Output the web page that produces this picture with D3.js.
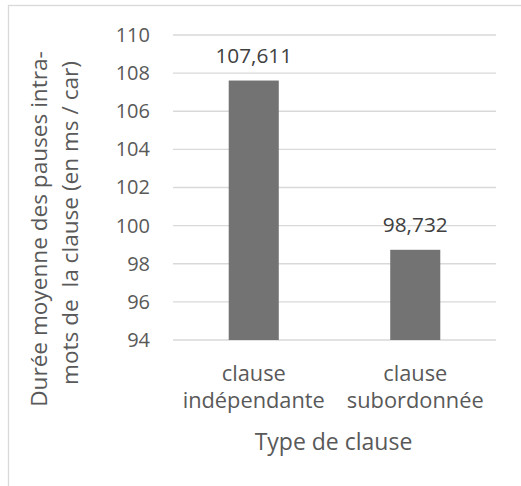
<!DOCTYPE html>
<html>
<head>
<meta charset="utf-8">
<script src="https://cdn.jsdelivr.net/npm/d3@7"></script>
<style>
  html, body { margin: 0; padding: 0; background: #fff; }
  svg { display: block; font-family: "Open Sans", "Segoe UI", sans-serif; }
</style>
</head>
<body>
<svg id="chart" width="521" height="486"></svg>
<script>
// Mean intra-word pause duration by clause type
const categories = [["clause", "indépendante"], ["clause", "subordonnée"]];
const values = [107.611, 98.732];
const valueLabels = ["107,611", "98,732"];
const yTicks = [94, 96, 98, 100, 102, 104, 106, 108, 110];
const yTitle = ["Durée moyenne des pauses intra-", "mots de  la clause (en ms / car)"];
const xTitle = "Type de clause";

const svg = d3.select("#chart");
const margin = { left: 173, right: 25, top: 35, bottom: 146 };
const W = 521, H = 486;
const textColor = "#595959";
const gridColor = "#d9d9d9";

// chart frame (runs past the right and bottom edges)
svg.append("rect")
  .attr("x", 8.5).attr("y", 5.5)
  .attr("width", 560).attr("height", 520)
  .attr("fill", "#fff").attr("stroke", gridColor).attr("stroke-width", 1.3);

const x = d3.scaleBand()
  .domain(d3.range(categories.length))
  .range([margin.left, W - margin.right])
  .paddingInner(0.69).paddingOuter(0.345);

const y = d3.scaleLinear()
  .domain([94, 110])
  .range([H - margin.bottom, margin.top]);

// horizontal gridlines
svg.append("g").selectAll("line").data(yTicks).join("line")
  .attr("x1", margin.left).attr("x2", W - margin.right)
  .attr("y1", d => y(d)).attr("y2", d => y(d))
  .attr("stroke", gridColor).attr("stroke-width", 1.3);

// y axis labels
const yAxis = d3.axisLeft(y).tickValues(yTicks).tickSize(0).tickPadding(23);
const gy = svg.append("g").attr("transform", `translate(${margin.left},0)`).call(yAxis);
gy.select(".domain").remove();
gy.selectAll("text")
  .attr("fill", textColor)
  .style("font-size", "20px")
  .style("font-family", "'Open Sans', sans-serif");

// bars
svg.append("g").selectAll("rect").data(values).join("rect")
  .attr("x", (d, i) => x(i))
  .attr("width", x.bandwidth())
  .attr("y", d => y(d))
  .attr("height", d => y(94) - y(d))
  .attr("fill", "#737373");

// value labels
svg.append("g").selectAll("text").data(values).join("text")
  .attr("x", (d, i) => x(i) + x.bandwidth() / 2)
  .attr("y", d => y(d) - 18)
  .attr("text-anchor", "middle")
  .attr("fill", "#404040")
  .style("font-size", "20.8px")
  .text((d, i) => valueLabels[i]);

// category labels
const cat = svg.append("g").selectAll("text").data(categories).join("text")
  .attr("text-anchor", "middle")
  .attr("fill", textColor)
  .style("font-size", "21.8px");
cat.each(function(lines, i) {
  d3.select(this).selectAll("tspan").data(lines).join("tspan")
    .attr("x", x(i) + x.bandwidth() / 2)
    .attr("y", (l, j) => 381 + j * 27)
    .text(l => l);
});

// x axis title
svg.append("text")
  .attr("x", 333.5).attr("y", 450)
  .attr("text-anchor", "middle")
  .attr("fill", textColor)
  .style("font-size", "23px")
  .text(xTitle);

// y axis title (two rotated lines)
const yTitleBaseX = [47, 78];
const yTitleMidY = [229, 223];
svg.append("g").selectAll("text").data(yTitle).join("text")
  .attr("transform", (d, i) => `translate(${yTitleBaseX[i]},${yTitleMidY[i]}) rotate(-90)`)
  .attr("text-anchor", "middle")
  .attr("fill", textColor)
  .style("font-size", "22.6px")
  .style("white-space", "pre")
  .attr("xml:space", "preserve")
  .text(d => d);
</script>
</body>
</html>
